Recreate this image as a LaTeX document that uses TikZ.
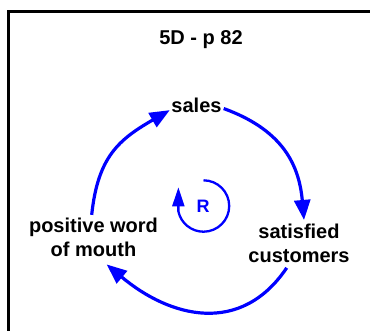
\documentclass[tikz,border=0pt]{standalone}
\usepackage{fontspec}
\setmainfont{Liberation Sans}
\usetikzlibrary{arrows.meta}
\definecolor{loopblue}{RGB}{0,0,255}
\begin{document}
\begin{tikzpicture}[x=1pt,y=1pt,
  lbl/.style={font=\fontsize{20}{24}\selectfont\bfseries, inner sep=0pt, align=center},
  rlbl/.style={font=\fontsize{18}{20}\selectfont\bfseries, text=loopblue, inner sep=0pt},
  link/.style={draw=loopblue, line width=3.2pt, -{Triangle[length=20pt,width=16pt]}, looseness=1.1},
  rloop/.style={draw=loopblue, line width=2.3pt, -{Triangle[length=19pt,width=12pt]}},
  frame/.style={draw=black, line width=3.3pt}]
\useasboundingbox (0,0) rectangle (370,330);
\clip (0,0) rectangle (370,330);
\draw[frame] (8.3,318.3) rectangle (400,-20);
\node[lbl, anchor=base] (title) at (201,285) {5D - p 82};
\node[lbl, anchor=base] (sales) at (196.5,217.3) {sales};
\node[lbl] (sat) at (299,87) {satisfied\\customers};
\node[lbl] (pos) at (93.5,92.5) {positive word\\of mouth};
\node[rlbl, anchor=base] (R) at (203,117.3) {R};
\draw[link] ([shift={(2,-3)}]sales.east) to[out=-20, in=95] ([shift={(5,3.5)}]sat.north);
\draw[link, looseness=1.17] ([shift={(-12.3,-5.3)}]sat.south) to[out=-124, in=-40] ([shift={(13.2,-7.4)}]pos.south);
\draw[link, looseness=1.15] ([shift={(-1.8,3.1)}]pos.north) to[out=84, in=210] ([shift={(-1.5,-4.6)}]sales.west);
\draw[rloop] ([shift={(0.5,0.5)}]R.center) ++(90:25.7) arc[start angle=90, end angle=-168, radius=25.7] -- ++(0,24);
\end{tikzpicture}
\end{document}
